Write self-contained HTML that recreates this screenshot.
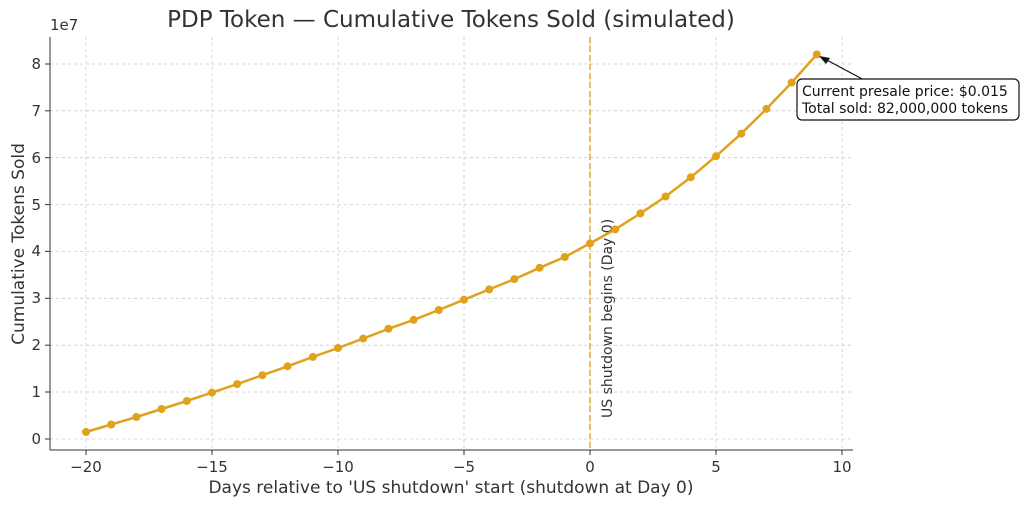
<!DOCTYPE html>
<html><head><meta charset="utf-8"><style>
html,body{margin:0;padding:0;background:#fff;}
svg{display:block;font-family:"DejaVu Sans","Liberation Sans",sans-serif;}
</style></head><body>
<svg width="1024" height="506" viewBox="0 0 1024 506" xmlns="http://www.w3.org/2000/svg">
<rect width="1024" height="506" fill="#fff"/>
<g stroke="#cccccc" stroke-width="0.8" stroke-dasharray="3,3">
<line x1="86" y1="37" x2="86" y2="450"/><line x1="212" y1="37" x2="212" y2="450"/>
<line x1="338" y1="37" x2="338" y2="450"/><line x1="464" y1="37" x2="464" y2="450"/>
<line x1="590" y1="37" x2="590" y2="450"/><line x1="716" y1="37" x2="716" y2="450"/>
<line x1="842" y1="37" x2="842" y2="450"/>
<line x1="50" y1="439" x2="853" y2="439"/><line x1="50" y1="392" x2="853" y2="392"/>
<line x1="50" y1="345.2" x2="853" y2="345.2"/><line x1="50" y1="298.3" x2="853" y2="298.3"/>
<line x1="50" y1="251.4" x2="853" y2="251.4"/><line x1="50" y1="204.6" x2="853" y2="204.6"/>
<line x1="50" y1="157.7" x2="853" y2="157.7"/><line x1="50" y1="110.8" x2="853" y2="110.8"/>
<line x1="50" y1="64" x2="853" y2="64"/>
</g>
<g stroke="#333" stroke-width="1">
<line x1="50" y1="37" x2="50" y2="450"/><line x1="50" y1="450" x2="853" y2="450"/>
</g>
<g stroke="#333" stroke-width="1">
<line x1="86" y1="450" x2="86" y2="455"/><line x1="212" y1="450" x2="212" y2="455"/>
<line x1="338" y1="450" x2="338" y2="455"/><line x1="464" y1="450" x2="464" y2="455"/>
<line x1="590" y1="450" x2="590" y2="455"/><line x1="716" y1="450" x2="716" y2="455"/>
<line x1="842" y1="450" x2="842" y2="455"/>
<line x1="45" y1="439" x2="50" y2="439"/><line x1="45" y1="392" x2="50" y2="392"/>
<line x1="45" y1="345.2" x2="50" y2="345.2"/><line x1="45" y1="298.3" x2="50" y2="298.3"/>
<line x1="45" y1="251.4" x2="50" y2="251.4"/><line x1="45" y1="204.6" x2="50" y2="204.6"/>
<line x1="45" y1="157.7" x2="50" y2="157.7"/><line x1="45" y1="110.8" x2="50" y2="110.8"/>
<line x1="45" y1="64" x2="50" y2="64"/>
</g>
<g font-size="15" fill="#333" text-anchor="middle">
<text x="86" y="472">−20</text><text x="212" y="472">−15</text><text x="338" y="472">−10</text>
<text x="464" y="472">−5</text><text x="590" y="472">0</text><text x="716" y="472">5</text><text x="842" y="472">10</text>
</g>
<g font-size="15" fill="#333" text-anchor="end">
<text x="41" y="444">0</text><text x="41" y="397">1</text><text x="41" y="350">2</text>
<text x="41" y="303">3</text><text x="41" y="256">4</text><text x="41" y="210">5</text>
<text x="41" y="163">6</text><text x="41" y="116">7</text><text x="41" y="69">8</text>
</g>
<text x="50" y="30" font-size="15" fill="#333">1e7</text>
<text x="451" y="493" font-size="17" fill="#333" text-anchor="middle">Days relative to 'US shutdown' start (shutdown at Day 0)</text>
<text transform="translate(24,244) rotate(-90)" font-size="17" fill="#333" text-anchor="middle">Cumulative Tokens Sold</text>
<text x="451" y="27" font-size="23" fill="#333" text-anchor="middle">PDP Token — Cumulative Tokens Sold (simulated)</text>
<line x1="590" y1="37" x2="590" y2="450" stroke="#e8a33a" stroke-width="1.5" stroke-dasharray="6,3"/>
<text transform="translate(612,418) rotate(-90)" font-size="14" fill="#333">US shutdown begins (Day 0)</text>
<polyline fill="none" stroke="#e0a21a" stroke-width="2.5" points="86,432 111.2,424.5 136.4,417 161.6,409 186.8,401 212,392.6 237.2,384.1 262.4,375.2 287.6,366.3 312.8,356.9 338,348 363.2,338.6 388.4,328.8 413.6,319.9 438.8,310 464,299.7 489.2,289.4 514.4,279.1 539.6,267.8 564.8,257 590,243.4 615.2,229.4 640.4,213.4 665.6,196.5 690.8,177.3 716,156.2 741.2,133.7 766.4,108.9 791.6,82.6 816.8,54.4"/>
<g fill="#e0a21a">
<circle cx="86" cy="432" r="4"/><circle cx="111.2" cy="424.5" r="4"/><circle cx="136.4" cy="417" r="4"/><circle cx="161.6" cy="409" r="4"/><circle cx="186.8" cy="401" r="4"/><circle cx="212" cy="392.6" r="4"/><circle cx="237.2" cy="384.1" r="4"/><circle cx="262.4" cy="375.2" r="4"/><circle cx="287.6" cy="366.3" r="4"/><circle cx="312.8" cy="356.9" r="4"/><circle cx="338" cy="348" r="4"/><circle cx="363.2" cy="338.6" r="4"/><circle cx="388.4" cy="328.8" r="4"/><circle cx="413.6" cy="319.9" r="4"/><circle cx="438.8" cy="310" r="4"/><circle cx="464" cy="299.7" r="4"/><circle cx="489.2" cy="289.4" r="4"/><circle cx="514.4" cy="279.1" r="4"/><circle cx="539.6" cy="267.8" r="4"/><circle cx="564.8" cy="257" r="4"/><circle cx="590" cy="243.4" r="4"/><circle cx="615.2" cy="229.4" r="4"/><circle cx="640.4" cy="213.4" r="4"/><circle cx="665.6" cy="196.5" r="4"/><circle cx="690.8" cy="177.3" r="4"/><circle cx="716" cy="156.2" r="4"/><circle cx="741.2" cy="133.7" r="4"/><circle cx="766.4" cy="108.9" r="4"/><circle cx="791.6" cy="82.6" r="4"/><circle cx="816.8" cy="54.4" r="4"/>
</g>
<line x1="866" y1="81" x2="823" y2="58" stroke="#111" stroke-width="1.2"/>
<polygon points="819,56 830,58 826,64" fill="#111"/>
<rect x="797" y="79" width="222" height="41" rx="5" fill="#fff" stroke="#111" stroke-width="1.2"/>
<text x="802" y="96" font-size="14" fill="#111">Current presale price: $0.015</text>
<text x="802" y="113" font-size="14" fill="#111">Total sold: 82,000,000 tokens</text>
</svg>
</body></html>
